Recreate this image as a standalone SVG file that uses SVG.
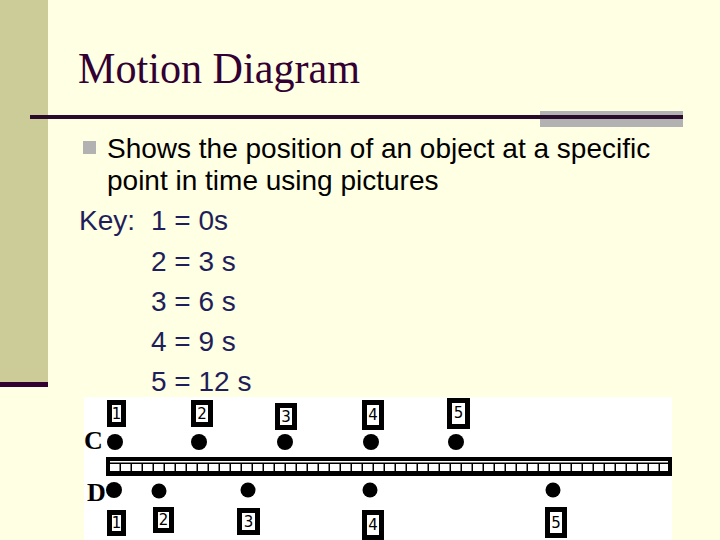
<svg xmlns="http://www.w3.org/2000/svg" width="720" height="540" viewBox="0 0 720 540">
<style>
.title{font-family:"Liberation Serif","Times New Roman",serif;font-size:44px;fill:#330033}
.body{font-family:"Liberation Sans",Arial,sans-serif;font-size:28px;fill:#000}
.key{font-family:"Liberation Sans",Arial,sans-serif;font-size:28px;fill:#1E1E5A}
.box{fill:#fff;stroke:#000;stroke-width:5}
.num{font-family:"DejaVu Sans",sans-serif;font-size:15px;fill:#000;text-anchor:middle}
.lbl{font-family:"Liberation Serif","Times New Roman",serif;font-size:26px;font-weight:bold;fill:#000}
.dot{fill:#000}
</style>
<defs>
<pattern id="cells" x="110" y="464" width="11" height="7" patternUnits="userSpaceOnUse">
<rect x="0" y="0" width="9.5" height="7" fill="#fff"/>
</pattern>
</defs>
<rect x="0" y="0" width="720" height="540" fill="#FFFFE3"/>
<rect x="0" y="0" width="48" height="383" fill="#CCCC99"/>
<rect x="0" y="382" width="48" height="5" fill="#330033"/>
<g id="title">
<text class="title" x="78" y="83" textLength="282" lengthAdjust="spacingAndGlyphs">Motion Diagram</text>
<rect x="540" y="111" width="143" height="16" fill="#B2B2B2"/>
<rect x="30" y="115" width="653" height="4" fill="#2B0B2B"/>
</g>
<g id="bullet">
<rect x="83" y="141" width="13" height="13" fill="#B2B2B2"/>
<text class="body" x="107" y="158">Shows the position of an object at a specific</text>
<text class="body" x="107" y="190">point in time using pictures</text>
</g>
<g id="key">
<text class="key" x="79" y="230">Key:</text>
<text class="key" x="151" y="230">1 = 0s</text>
<text class="key" x="151" y="271">2 = 3 s</text>
<text class="key" x="151" y="311">3 = 6 s</text>
<text class="key" x="151" y="351">4 = 9 s</text>
<text class="key" x="151" y="391">5 = 12 s</text>
</g>
<g id="picture">
<rect x="84" y="397" width="588" height="143" fill="#fff"/>
<g id="track">
<rect x="106" y="457" width="566" height="19" fill="#000"/>
<rect x="110" y="461" width="558" height="1.5" fill="#fff"/>
<rect x="110" y="464" width="558" height="7" fill="url(#cells)"/>
</g>
<g id="row-C">
<text class="lbl" x="84" y="449">C</text>
<circle class="dot" cx="115" cy="442" r="8"/>
<circle class="dot" cx="199" cy="442" r="8"/>
<circle class="dot" cx="285" cy="442" r="8"/>
<circle class="dot" cx="371" cy="442" r="8"/>
<circle class="dot" cx="456" cy="442" r="8"/>
<rect class="box" x="109.5" y="402.5" width="14" height="22"/><text class="num" x="116.5" y="419">1</text>
<rect class="box" x="193.5" y="402.5" width="17" height="22"/><text class="num" x="202" y="419">2</text>
<rect class="box" x="277.5" y="405.5" width="17" height="22"/><text class="num" x="286" y="422">3</text>
<rect class="box" x="364.5" y="402.5" width="17" height="25"/><text class="num" x="373" y="420">4</text>
<rect class="box" x="449.5" y="400.5" width="18" height="26"/><text class="num" x="458.5" y="418">5</text>
</g>
<g id="row-D">
<text class="lbl" x="87" y="501">D</text>
<circle class="dot" cx="114" cy="490" r="8"/>
<circle class="dot" cx="159" cy="491" r="7.5"/>
<circle class="dot" cx="248" cy="490" r="7.5"/>
<circle class="dot" cx="370" cy="490" r="7.5"/>
<circle class="dot" cx="553" cy="490" r="7.5"/>
<rect class="box" x="109.5" y="512.5" width="14" height="21"/><text class="num" x="116.5" y="528">1</text>
<rect class="box" x="155.5" y="509.5" width="16" height="21"/><text class="num" x="163.5" y="525">2</text>
<rect class="box" x="239.5" y="510.5" width="18" height="22"/><text class="num" x="248.5" y="527">3</text>
<rect class="box" x="364.5" y="512.5" width="17" height="25"/><text class="num" x="373" y="530">4</text>
<rect class="box" x="547.5" y="509.5" width="17" height="26"/><text class="num" x="556" y="528">5</text>
</g>
</g>
</svg>
